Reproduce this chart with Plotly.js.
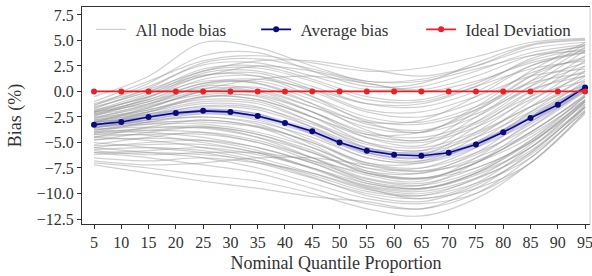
<!DOCTYPE html>
<html>
<head>
<meta charset="utf-8">
<script src="https://cdn.plot.ly/plotly-3.0.1.min.js"></script>
<style>html,body{margin:0;padding:0;background:#fff;}#chart{width:592px;height:276px;}</style>
</head>
<body>
<div id="chart"></div>
<script>
// Quantile levels
var quantiles = [5,10,15,20,25,30,35,40,45,50,55,60,65,70,75,80,85,90,95];
var averageBias = [-3.25,-3.0,-2.5,-2.1,-1.9,-2.0,-2.4,-3.1,-3.9,-5.0,-5.8,-6.2,-6.3,-6.0,-5.2,-4.0,-2.6,-1.3,0.4];
var idealDeviation = [0,0,0,0,0,0,0,0,0,0,0,0,0,0,0,0,0,0,0];

// Individual node bias curves (sampled every 10 quantile points)
var nodeQuantiles = [5,15,25,35,45,55,65,75,85,95];
var nodeBias = [
  [-0.5, 1.5, 4.8, 4.3, 2.5, 1.0, 1.2, 2.5, 4.5, 5.0],
  [-1.0, 1.0, 3.0, 3.5, 2.8, 2.0, 2.3, 3.4, 4.8, 5.2],
  [-1.2, 0.5, 2.6, 2.8, 1.5, 0.2, 0.5, 2.0, 3.8, 4.6],
  [-1.5, 0.0, 2.2, 2.5, 1.2, -0.5, -0.8, 0.8, 3.0, 4.2],
  [-1.8, -0.5, 1.8, 2.0, 0.5, -1.2, -1.5, 0.0, 2.5, 3.8],
  [-2.0, -0.8, 1.2, 1.5, 0.0, -2.0, -2.5, -1.0, 1.8, 3.2],
  [-2.2, -1.0, 0.8, 0.8, -0.8, -2.8, -3.2, -1.8, 1.0, 2.8],
  [-2.3, -1.3, 0.5, 0.2, -1.5, -3.5, -4.0, -2.5, 0.5, 2.5],
  [-2.5, -1.5, 0.0, -0.2, -2.0, -4.0, -4.5, -3.0, 0.0, 2.0],
  [-2.6, -1.8, -0.5, -0.8, -2.5, -4.5, -5.0, -3.5, -0.8, 1.6],
  [-2.8, -2.0, -1.0, -1.2, -3.0, -5.0, -5.5, -4.0, -1.5, 1.2],
  [-2.9, -2.2, -1.5, -1.8, -3.5, -5.5, -6.0, -4.5, -2.0, 0.8],
  [-3.0, -2.5, -2.0, -2.5, -4.0, -6.0, -6.5, -5.0, -2.5, 0.5],
  [-3.2, -2.8, -2.5, -3.0, -4.5, -6.5, -7.0, -5.5, -3.0, 0.2],
  [-3.4, -3.0, -3.0, -3.5, -5.0, -7.0, -7.5, -6.0, -3.5, 0.0],
  [-3.5, -3.2, -3.2, -4.0, -5.5, -7.5, -8.0, -6.5, -4.0, -0.3],
  [-3.7, -3.5, -3.6, -4.5, -6.0, -8.0, -8.5, -7.0, -4.5, -0.5],
  [-3.9, -3.8, -4.0, -5.0, -6.5, -8.5, -9.0, -7.5, -5.0, -0.8],
  [-4.0, -4.0, -4.5, -5.5, -7.0, -9.0, -9.5, -8.0, -5.5, -1.0],
  [-4.2, -4.3, -5.0, -6.0, -7.5, -9.3, -9.8, -8.5, -6.0, -1.3],
  [-4.5, -4.8, -5.5, -6.5, -8.0, -9.6, -10.2, -9.0, -6.5, -1.5],
  [-5.0, -5.5, -6.0, -7.0, -8.5, -10.0, -10.5, -9.5, -7.0, -2.0],
  [-5.5, -6.0, -6.5, -7.5, -9.0, -10.5, -11.0, -10.0, -7.0, -2.2],
  [-6.0, -6.5, -7.2, -8.0, -9.5, -11.0, -11.5, -10.0, -6.5, -1.8],
  [-7.0, -7.5, -8.2, -8.8, -10.0, -11.5, -12.2, -10.5, -7.0, -2.0],
  [-7.2, -8.0, -8.8, -9.5, -10.3, -10.8, -11.5, -9.5, -6.0, -1.5],
  [-6.5, -6.8, -6.5, -7.0, -8.0, -9.5, -10.5, -9.0, -5.5, -1.0],
  [-6.0, -5.8, -5.5, -6.2, -7.5, -9.0, -9.5, -8.0, -4.8, -0.5],
  [-5.5, -5.0, -4.8, -5.5, -7.0, -8.8, -9.2, -7.0, -3.5, 0.2],
  [-5.2, -4.5, -4.0, -4.8, -6.5, -8.2, -8.8, -6.5, -3.0, 0.5],
  [-4.8, -4.0, -3.5, -4.2, -6.0, -7.8, -8.0, -6.0, -2.5, 1.0],
  [-4.5, -3.5, -2.8, -3.5, -5.5, -7.5, -7.5, -5.5, -2.0, 1.5],
  [-4.0, -3.0, -2.2, -2.8, -4.8, -7.0, -7.0, -5.0, -1.5, 2.0],
  [-3.6, -2.6, -1.8, -2.2, -4.2, -6.5, -6.8, -4.5, -1.0, 2.5],
  [-3.3, -2.2, -1.2, -1.5, -3.5, -6.0, -6.5, -4.0, -0.5, 3.0],
  [-3.0, -1.8, -0.8, -1.0, -3.0, -5.5, -6.2, -3.5, 0.0, 3.5],
  [-2.7, -1.4, -0.3, -0.5, -2.5, -5.0, -5.8, -3.0, 0.5, 4.0],
  [-2.4, -1.0, 0.3, 0.0, -2.0, -4.5, -5.3, -2.5, 1.0, 4.3],
  [-2.0, -0.5, 1.0, 0.8, -1.2, -3.8, -4.8, -2.0, 1.5, 4.6],
  [-1.6, 0.0, 1.6, 1.5, -0.5, -3.0, -4.0, -1.5, 2.0, 4.8],
  [-3.8, -3.0, -2.5, -3.2, -5.2, -7.8, -8.5, -7.0, -4.0, -0.5],
  [-4.2, -3.8, -3.5, -4.5, -6.5, -8.8, -9.5, -8.2, -5.5, -1.5],
  [-5.8, -6.2, -6.0, -6.0, -6.8, -8.0, -8.5, -7.5, -5.0, -1.2],
  [-6.8, -7.2, -7.0, -6.5, -6.5, -7.2, -7.8, -6.8, -4.2, -0.8],
  [-2.0, -1.2, 0.2, 1.2, 1.5, 0.8, 0.0, 1.0, 2.8, 3.8],
  [-1.3, 0.2, 2.0, 3.0, 3.0, 2.2, 1.5, 2.5, 4.2, 4.8],
  [-1.4, 0.8, 3.5, 3.8, 2.0, 0.5, 0.8, 2.8, 4.6, 5.1],
  [-1.7, 0.3, 2.8, 3.2, 2.2, 1.0, 1.0, 2.2, 3.5, 4.0],
  [-2.1, -0.3, 2.0, 2.3, 1.0, -0.8, -1.0, 0.5, 2.2, 3.0],
  [-2.4, -0.6, 1.5, 1.8, 0.2, -1.8, -2.0, -0.5, 1.5, 2.2],
  [-2.6, -1.2, 0.6, 1.0, -0.5, -2.5, -3.0, -1.5, 0.8, 1.8],
  [-2.8, -1.6, 0.0, 0.4, -1.2, -3.2, -3.8, -2.2, 0.2, 1.5],
  [-3.1, -2.0, -0.6, -0.4, -2.0, -4.2, -4.8, -3.2, -0.5, 1.0],
  [-3.3, -2.4, -1.4, -1.6, -3.2, -5.2, -5.8, -4.2, -1.5, 0.6],
  [-3.6, -2.8, -2.0, -2.4, -4.0, -6.2, -6.8, -5.2, -2.2, 0.3],
  [-3.8, -3.2, -2.8, -3.4, -5.0, -7.2, -7.8, -6.2, -3.2, 0.0],
  [-4.1, -3.6, -3.4, -4.2, -5.8, -8.0, -8.6, -7.0, -4.0, -0.4],
  [-4.4, -4.2, -4.2, -5.0, -6.8, -8.6, -9.2, -7.8, -4.8, -0.9],
  [-4.7, -4.6, -4.8, -5.8, -7.5, -9.2, -9.6, -8.0, -5.0, -1.0],
  [-5.3, -5.2, -5.2, -6.0, -7.6, -9.4, -10.0, -8.6, -5.8, -1.6],
  [-5.7, -5.5, -5.8, -6.8, -8.4, -10.2, -10.8, -9.2, -6.2, -1.9],
  [-6.2, -6.0, -6.2, -6.8, -8.2, -9.8, -10.2, -8.5, -5.2, -0.8],
  [-2.2, -0.8, 0.8, 1.2, 0.2, -1.2, -1.2, 0.5, 3.2, 4.5],
  [-3.0, -1.6, 0.0, 0.0, -1.5, -3.0, -2.8, -0.5, 2.5, 4.0],
  [-3.4, -2.0, -0.5, -0.8, -2.5, -4.2, -4.0, -1.8, 1.5, 3.4],
  [-1.9, -0.2, 1.5, 2.5, 2.0, 0.8, 0.2, 1.5, 3.5, 4.4]
];
var yTicks = [-12.5,-10,-7.5,-5,-2.5,0,2.5,5,7.5];
var xTicks = quantiles;

var FONT = 'Liberation Serif';
var traces = [];
nodeBias.forEach(function(vals, i){
  traces.push({
    x: nodeQuantiles, y: vals, type: 'scatter', mode: 'lines',
    line: {color: 'rgba(150,150,150,0.45)', width: 1.2, shape: 'spline', smoothing: 1},
    name: '\u00a0All node bias', legendgroup: 'nodes', showlegend: i === 0,
    hoverinfo: 'skip'
  });
});
traces.push({
  x: quantiles, y: averageBias, type: 'scatter', mode: 'lines',
  line: {color: 'rgba(90,90,255,0.25)', width: 6}, showlegend: false, hoverinfo: 'skip'
});
traces.push({
  x: quantiles, y: averageBias, type: 'scatter', mode: 'lines+markers',
  line: {color: '#0b0b7a', width: 1.6},
  marker: {color: '#0b0b7a', size: 6},
  name: '\u00a0Average bias'
});
traces.push({
  x: quantiles, y: idealDeviation, type: 'scatter', mode: 'lines+markers',
  line: {color: '#e8202a', width: 1.8},
  marker: {color: '#e8202a', size: 6},
  name: '\u00a0Ideal Deviation'
});

var layout = {
  width: 592, height: 276,
  margin: {l: 82, r: 2, t: 7, b: 52},
  paper_bgcolor: '#fff', plot_bgcolor: '#fff',
  font: {family: FONT, size: 15, color: '#333'},
  showlegend: true,
  legend: {orientation: 'h', x: 0.018, xanchor: 'left', y: 0.895, yanchor: 'middle',
           bgcolor: 'rgba(255,255,255,0)', font: {family: FONT, size: 17, color: '#333'},
           entrywidth: 120, entrywidthmode: 'pixels', traceorder: 'normal'},
  xaxis: {
    range: [2.8, 95.9], tickvals: xTicks, ticks: 'outside', ticklen: 4, tickcolor: '#333',
    showline: true, linecolor: '#333', linewidth: 1, mirror: true, showgrid: false, zeroline: false,
    ticklabeloverflow: 'allow',
    tickfont: {family: FONT, size: 16, color: '#333'},
    title: {text: 'Nominal Quantile Proportion', font: {family: FONT, size: 18, color: '#333'}, standoff: 6}
  },
  yaxis: {
    range: [-12.99, 8.28], tickvals: yTicks, tickformat: '.1f', ticks: 'outside', ticklen: 4, tickcolor: '#333',
    showline: true, linecolor: '#333', linewidth: 1, showgrid: false, zeroline: false,
    tickfont: {family: FONT, size: 16, color: '#333'},
    title: {text: 'Bias (%)', font: {family: FONT, size: 18, color: '#333'}, standoff: 10}
  },
  shapes: [{type: 'line', xref: 'paper', yref: 'paper', x0: 1, x1: 1, y0: 0, y1: 1,
            line: {color: '#cccccc', width: 1}}]
};
Plotly.newPlot('chart', traces, layout, {displayModeBar: false, staticPlot: true});
</script>
</body>
</html>
